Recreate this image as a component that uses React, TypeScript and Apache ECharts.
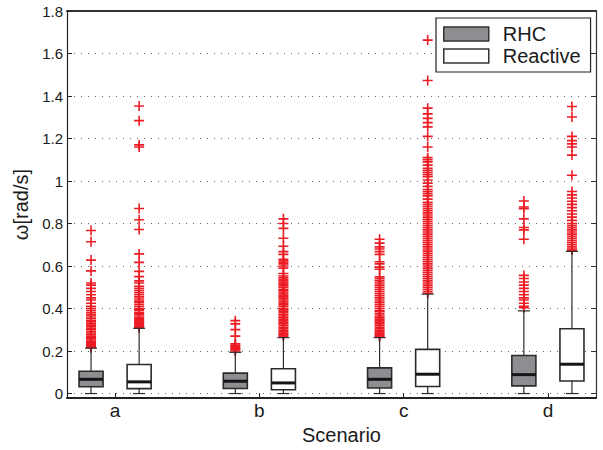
import React, { useEffect, useRef } from 'react';
import * as echarts from 'echarts';

const categories = ['a', 'b', 'c', 'd'];
const seriesNames = ['RHC', 'Reactive'];
const yTicks = [0, 0.2, 0.4, 0.6, 0.8, 1, 1.2, 1.4, 1.6, 1.8];
const xTicks = [1, 2, 3, 4];

// [lower whisker, q1, median, q3, upper whisker]
const rhcBoxes = [
  [0, 0.032, 0.067, 0.105, 0.214],
  [0, 0.024, 0.058, 0.096, 0.194],
  [0, 0.026, 0.067, 0.121, 0.263],
  [0, 0.036, 0.089, 0.179, 0.389],
];
const reactiveBoxes = [
  [0, 0.023, 0.055, 0.137, 0.307],
  [0, 0.018, 0.05, 0.117, 0.263],
  [0, 0.033, 0.091, 0.208, 0.468],
  [0, 0.059, 0.138, 0.305, 0.669],
];

const rhcOutliersA = [0.767, 0.714, 0.628, 0.577, 0.52, 0.51, 0.495, 0.48, 0.465, 0.45, 0.44, 0.425, 0.41, 0.4, 0.39, 0.38, 0.372, 0.365, 0.355, 0.345, 0.338, 0.33, 0.322, 0.315, 0.307, 0.3, 0.292, 0.285, 0.278, 0.27, 0.264, 0.258, 0.252, 0.246, 0.24, 0.235, 0.23, 0.225, 0.22, 0.216];
const rhcOutliersB = [0.343, 0.328, 0.301, 0.27, 0.234, 0.228, 0.222, 0.216, 0.21, 0.205, 0.2];
const rhcOutliersC = [0.726, 0.708, 0.69, 0.68, 0.668, 0.655, 0.62, 0.61, 0.595, 0.585, 0.549, 0.54, 0.53, 0.52, 0.51, 0.5, 0.49, 0.48, 0.47, 0.46, 0.45, 0.44, 0.43, 0.42, 0.41, 0.4, 0.39, 0.385, 0.375, 0.365, 0.358, 0.35, 0.342, 0.335, 0.328, 0.32, 0.312, 0.305, 0.298, 0.29, 0.284, 0.278, 0.272, 0.267];
const rhcOutliersD = [0.906, 0.878, 0.87, 0.822, 0.781, 0.77, 0.726, 0.556, 0.541, 0.525, 0.51, 0.495, 0.48, 0.465, 0.45, 0.44, 0.425, 0.41, 0.404];

const reactiveOutliersA = [1.353, 1.284, 1.17, 1.16, 0.871, 0.818, 0.772, 0.657, 0.617, 0.575, 0.55, 0.53, 0.52, 0.505, 0.495, 0.485, 0.475, 0.465, 0.455, 0.445, 0.435, 0.43, 0.42, 0.41, 0.4, 0.395, 0.39, 0.38, 0.375, 0.37, 0.36, 0.355, 0.35, 0.345, 0.34, 0.335, 0.33, 0.325, 0.32, 0.315, 0.31];
const reactiveOutliersB = [0.822, 0.8, 0.777, 0.731, 0.693, 0.668, 0.655, 0.632, 0.625, 0.618, 0.61, 0.6, 0.59, 0.565, 0.553, 0.545, 0.538, 0.53, 0.522, 0.515, 0.508, 0.5, 0.49, 0.485, 0.478, 0.47, 0.462, 0.455, 0.448, 0.44, 0.432, 0.425, 0.418, 0.41, 0.4, 0.395, 0.388, 0.38, 0.372, 0.365, 0.358, 0.35, 0.342, 0.335, 0.328, 0.32, 0.312, 0.305, 0.298, 0.29, 0.283, 0.276, 0.27];
const reactiveOutliersC = [1.663, 1.473, 1.343, 1.316, 1.295, 1.275, 1.255, 1.21, 1.16, 1.11, 1.1, 1.09, 1.075, 1.06, 1.05, 1.04, 1.03, 1.02, 1.005, 0.99, 0.975, 0.96, 0.95, 0.94, 0.93, 0.915, 0.9, 0.89, 0.88, 0.87, 0.86, 0.85, 0.84, 0.83, 0.82, 0.81, 0.8, 0.79, 0.78, 0.77, 0.76, 0.75, 0.74, 0.73, 0.72, 0.71, 0.7, 0.69, 0.68, 0.67, 0.66, 0.65, 0.64, 0.63, 0.62, 0.61, 0.6, 0.59, 0.58, 0.57, 0.56, 0.55, 0.54, 0.53, 0.52, 0.51, 0.5, 0.49, 0.48, 0.472];
const reactiveOutliersD = [1.351, 1.301, 1.21, 1.19, 1.175, 1.16, 1.122, 1.027, 0.951, 0.935, 0.92, 0.905, 0.89, 0.875, 0.86, 0.845, 0.83, 0.815, 0.8, 0.79, 0.78, 0.77, 0.76, 0.75, 0.74, 0.73, 0.72, 0.71, 0.7, 0.69, 0.68, 0.675];

const rhcOutliers = [rhcOutliersA, rhcOutliersB, rhcOutliersC, rhcOutliersD];
const reactiveOutliers = [reactiveOutliersA, reactiveOutliersB, reactiveOutliersC, reactiveOutliersD];

const FONT = '"Liberation Sans", Arial, Helvetica, sans-serif';
const RHC_FILL = '#8d8e92';
const REACTIVE_FILL = '#ffffff';
const OUTLIER_COLOR = '#ec1c24';
const GROUP_OFFSET = 1 / 6;
const BOX_WIDTH = 1 / 6;
const PLUS = 'path://M4.2 0H5.8V4.2H10V5.8H5.8V10H4.2V5.8H0V4.2H4.2Z';

function boxData(boxes: number[][], offset: number) {
  return boxes.map((b, i) => [i + 1 + offset, ...b]);
}
function outlierData(outs: number[][], offset: number) {
  const r: number[][] = [];
  outs.forEach((arr, i) => arr.forEach((v) => r.push([i + 1 + offset, v])));
  return r;
}

const makeRender = (fill: string) => (params: any, api: any) => {
  const x = api.value(0);
  const pts = [1, 2, 3, 4, 5].map((k) => api.coord([x, api.value(k)]));
  const w = api.size([BOX_WIDTH, 0])[0];
  const [pMin, pQ1, pMed, pQ3, pMax] = pts;
  const cx = pMin[0];
  const half = w / 2;
  const cap = w / 4;
  const stroke = '#2b2b2b';
  return {
    type: 'group',
    children: [
      { type: 'line', shape: { x1: cx, y1: pMin[1], x2: cx, y2: pQ1[1] }, style: { stroke, lineWidth: 1.2 } },
      { type: 'line', shape: { x1: cx, y1: pQ3[1], x2: cx, y2: pMax[1] }, style: { stroke, lineWidth: 1.2 } },
      { type: 'line', shape: { x1: cx - cap, y1: pMin[1], x2: cx + cap, y2: pMin[1] }, style: { stroke, lineWidth: 1.2 } },
      { type: 'line', shape: { x1: cx - cap, y1: pMax[1], x2: cx + cap, y2: pMax[1] }, style: { stroke, lineWidth: 1.2 } },
      { type: 'rect', shape: { x: cx - half, y: pQ3[1], width: w, height: pQ1[1] - pQ3[1] }, style: { fill, stroke, lineWidth: 1.6 } },
      { type: 'line', shape: { x1: cx - half, y1: pMed[1], x2: cx + half, y2: pMed[1] }, style: { stroke: '#151515', lineWidth: 3 } },
    ],
  };
};

export default function App() {
  const ref = useRef<HTMLDivElement>(null);
  useEffect(() => {
    if (!ref.current) return;
    const chart = echarts.init(ref.current, undefined, { renderer: 'svg' });
    const yMin = -0.0214;
    const yMax = 1.8;
    const xMin = 2 / 3;
    const xMax = 13 / 3;
    const axisColor = '#222';
    const fmtY = (v: number) => String(+(+v).toFixed(2));
    chart.setOption({
      animation: false,
      backgroundColor: '#fff',
      textStyle: { fontFamily: FONT },
      grid: { left: 67, right: 7, top: 11, bottom: 40, containLabel: false },
      legend: {
        orient: 'vertical',
        left: 436,
        top: 18,
        padding: [6, 10, 6, 7],
        itemGap: 2,
        itemWidth: 45,
        itemHeight: 14,
        backgroundColor: '#fff',
        borderColor: '#222',
        borderWidth: 1.2,
        borderRadius: 0,
        selectedMode: false,
        textStyle: { fontFamily: FONT, fontSize: 20, lineHeight: 20, color: '#1a1a1a', padding: [0, 0, 0, 9] },
        data: [
          { name: seriesNames[0], icon: 'rect', itemStyle: { color: RHC_FILL, borderColor: '#333', borderWidth: 1.5 } },
          { name: seriesNames[1], icon: 'rect', itemStyle: { color: REACTIVE_FILL, borderColor: '#333', borderWidth: 1.5 } },
        ],
      },
      xAxis: [
        {
          type: 'value',
          min: xMin,
          max: xMax,
          position: 'bottom',
          axisLine: { show: true, onZero: false, lineStyle: { color: axisColor, width: 2 } },
          axisTick: { show: true, inside: true, length: 5, customValues: xTicks, lineStyle: { color: axisColor, width: 1 } },
          axisLabel: {
            customValues: xTicks,
            formatter: (v: number) => categories[Math.round(v) - 1] ?? '',
            fontSize: 19,
            color: '#1a1a1a',
            margin: 3,
            fontFamily: FONT,
          },
          splitLine: { show: false },
          name: 'Scenario',
          nameLocation: 'middle',
          nameGap: 15,
          nameTextStyle: { fontSize: 20, color: '#1a1a1a', fontFamily: FONT, padding: [0, 0, 0, 20] },
        },
        {
          type: 'value',
          min: xMin,
          max: xMax,
          position: 'top',
          axisLine: { show: true, onZero: false, lineStyle: { color: '#333', width: 2 } },
          axisTick: { show: false },
          axisLabel: { show: false },
          splitLine: { show: false },
        },
      ],
      yAxis: [
        {
          type: 'value',
          min: yMin,
          max: yMax,
          position: 'left',
          axisLine: { show: true, onZero: false, lineStyle: { color: axisColor, width: 1.2 } },
          axisTick: { show: true, inside: true, length: 5, customValues: yTicks, lineStyle: { color: axisColor, width: 1 } },
          axisLabel: { customValues: yTicks, formatter: fmtY, fontSize: 15, color: '#1a1a1a', margin: 4, fontFamily: FONT },
          splitLine: { show: true, lineStyle: { color: '#666', width: 1, type: [1, 6] } },
          name: 'ω[rad/s]',
          nameLocation: 'middle',
          nameGap: 32,
          nameTextStyle: { fontSize: 20, color: '#1a1a1a', fontFamily: FONT },
        },
        {
          type: 'value',
          min: yMin,
          max: yMax,
          position: 'right',
          axisLine: { show: true, onZero: false, lineStyle: { color: '#333', width: 1.2 } },
          axisTick: { show: true, inside: true, length: 5, customValues: yTicks, lineStyle: { color: '#333', width: 1 } },
          axisLabel: { show: false },
          splitLine: { show: false },
        },
      ],
      series: [
        {
          name: 'RHC outliers',
          type: 'scatter',
          xAxisIndex: 0,
          yAxisIndex: 0,
          symbol: PLUS,
          symbolSize: 10,
          silent: true,
          itemStyle: { color: OUTLIER_COLOR, opacity: 1 },
          data: outlierData(rhcOutliers, -GROUP_OFFSET),
          z: 3,
        },
        {
          name: 'Reactive outliers',
          type: 'scatter',
          xAxisIndex: 0,
          yAxisIndex: 0,
          symbol: PLUS,
          symbolSize: 10,
          silent: true,
          itemStyle: { color: OUTLIER_COLOR, opacity: 1 },
          data: outlierData(reactiveOutliers, GROUP_OFFSET),
          z: 3,
        },
        {
          name: seriesNames[0],
          type: 'custom',
          xAxisIndex: 0,
          yAxisIndex: 0,
          itemStyle: { color: RHC_FILL },
          renderItem: makeRender(RHC_FILL),
          encode: { x: 0, y: [1, 2, 3, 4, 5] },
          data: boxData(rhcBoxes, -GROUP_OFFSET),
          clip: false,
          z: 4,
        },
        {
          name: seriesNames[1],
          type: 'custom',
          xAxisIndex: 0,
          yAxisIndex: 0,
          itemStyle: { color: REACTIVE_FILL },
          renderItem: makeRender(REACTIVE_FILL),
          encode: { x: 0, y: [1, 2, 3, 4, 5] },
          data: boxData(reactiveBoxes, GROUP_OFFSET),
          clip: false,
          z: 4,
        },
      ],
    });
    return () => chart.dispose();
  }, []);
  return <div ref={ref} style={{ position: 'absolute', left: 0, top: 0, width: 603, height: 450 }} />;
}
